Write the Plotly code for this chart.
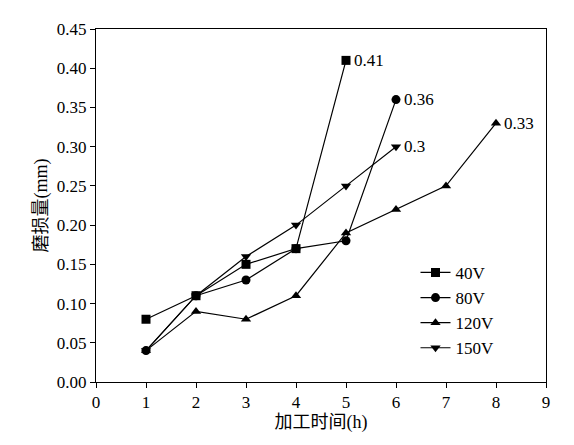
import plotly.graph_objects as go

x40 = [1, 2, 3, 4, 5]
y40 = [0.08, 0.11, 0.15, 0.17, 0.41]
x80 = [1, 2, 3, 4, 5, 6]
y80 = [0.04, 0.11, 0.13, 0.17, 0.18, 0.36]
x120 = [1, 2, 3, 4, 5, 6, 7, 8]
y120 = [0.04, 0.09, 0.08, 0.11, 0.19, 0.22, 0.25, 0.33]
x150 = [1, 2, 3, 4, 5, 6]
y150 = [0.04, 0.11, 0.16, 0.20, 0.25, 0.30]
names = ["40V", "80V", "120V", "150V"]
symbols = ["square", "circle", "triangle-up", "triangle-down"]
end_labels = ["0.41", "0.36", "0.33", "0.3"]

font = "Liberation Serif, Noto Sans CJK SC, serif"
fig = go.Figure()
for xs, ys, n, s, lab in zip([x40, x80, x120, x150], [y40, y80, y120, y150], names, symbols, end_labels):
    fig.add_trace(go.Scatter(x=xs, y=ys, name=n, mode="lines+markers",
                             line=dict(color="black", width=1.2),
                             marker=dict(symbol=s, size=9, color="black")))
    fig.add_annotation(x=xs[-1], y=ys[-1], text=lab, showarrow=False,
                       xanchor="left", xshift=6, font=dict(size=17, family=font, color="black"))

axis = dict(showline=True, linecolor="black", linewidth=1, mirror=True, ticks="outside",
            ticklen=5, tickcolor="black", showgrid=False, zeroline=False,
            tickfont=dict(size=17, family=font, color="black"))
fig.update_layout(
    width=574, height=445, plot_bgcolor="white", paper_bgcolor="white",
    margin=dict(l=88, r=36, t=13, b=71),
    xaxis=dict(axis, range=[0, 9], dtick=1,
               title=dict(text="加工时间(h)", font=dict(size=18, family=font, color="black"), standoff=2)),
    yaxis=dict(axis, range=[0, 0.45], dtick=0.05, tickformat=".2f",
               title=dict(text="磨损量(mm)", font=dict(size=18, family=font, color="black"), standoff=4)),
    legend=dict(x=0.71, y=0.36, xanchor="left", yanchor="top", bgcolor="rgba(0,0,0,0)",
                font=dict(size=17, family=font, color="black"), tracegroupgap=0),
    showlegend=True,
)
fig.write_html("out.html")
